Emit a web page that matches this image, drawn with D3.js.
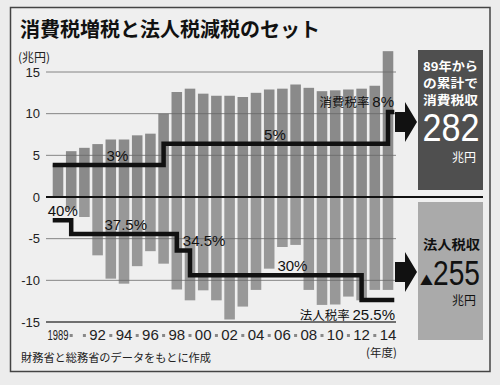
<!DOCTYPE html>
<html>
<head>
<meta charset="utf-8">
<script src="https://cdn.jsdelivr.net/npm/d3@7/dist/d3.min.js"></script>
<style>
  body { margin: 0; background: #ececec; }
  svg { display: block; }
  text { font-family: 'Liberation Sans', 'Noto Sans CJK JP', sans-serif; }
  .jp { font-family: 'Noto Sans CJK JP', sans-serif; }
</style>
</head>
<body>
<div id="chart"></div>
<script>
const years = [1989, 1990, 1991, 1992, 1993, 1994, 1995, 1996, 1997, 1998, 1999, 2000, 2001,
  2002, 2003, 2004, 2005, 2006, 2007, 2008, 2009, 2010, 2011, 2012, 2013, 2014]
// 消費税収 (兆円)
const consumptionTax = [3.9, 5.5, 5.9, 6.35, 6.9, 6.9, 7.4, 7.6, 10.0, 12.6, 13.0, 12.4, 12.15,
  12.15, 12.0, 12.5, 12.9, 13.0, 13.5, 13.1, 12.7, 12.8, 12.9, 13.0, 13.35, 17.5]
// 法人税収の減少分 (兆円, 89年度比)
const corporateTax = [0, -1.5, -2.4, -7.0, -9.8, -10.4, -8.3, -6.5, -8.0, -11.1, -12.4, -11.2, -12.4,
  -14.7, -13.15, -11.15, -8.6, -6.0, -5.75, -11.15, -12.95, -12.9, -11.95, -12.4, -11.15, -11.15]
const yTicks = [15, 10, 5, 0, -5, -10, -15]
const xTickLabels = ['1989', null, null, '92', null, '94', null, '96', null, '98', null, '00', null,
  '02', null, '04', null, '06', null, '08', null, '10', null, '12', null, '14']

const consumptionRateYears = [1989, 1997, 2014]
const consumptionRates = [3, 5, 8]
const corporateRateYears = [1989, 1990, 1998, 1999, 2012]
const corporateRates = [40, 37.5, 34.5, 30, 25.5]

const W = 500, H = 385

const svg = d3.select('#chart').append('svg')
  .attr('width', W)
  .attr('height', H)

const x = d3.scaleBand()
  .domain(years)
  .range([51.4, 394.6])
  .paddingInner(0.2)
  .paddingOuter(0.1)
const bw = x.bandwidth()

const y = d3.scaleLinear().domain([-15, 15]).range([322, 72])

// rate → chart level
const cRate = d3.scaleLinear().domain([3, 8]).range([3.84, 10.2])
const kRate = d3.scaleLinear().domain([37.5, 25.5]).range([-4.44, -12.36])

// frame
svg.append('rect')
  .attr('x', 10.5).attr('y', 7.5)
  .attr('width', 479.5).attr('height', 364)
  .attr('fill', '#efefef')
  .attr('stroke', '#444')
  .attr('stroke-width', 1.5)

// title
svg.append('text')
  .attr('class', 'jp')
  .attr('x', 20).attr('y', 37)
  .attr('font-size', 20)
  .attr('font-weight', 700)
  .attr('fill', '#111')
  .text('消費税増税と法人税減税のセット')

svg.append('text')
  .attr('class', 'jp')
  .attr('x', 18).attr('y', 62)
  .attr('font-size', 12)
  .attr('fill', '#222')
  .text('(兆円)')

// bars
svg.append('g').selectAll('rect')
  .data(years)
  .enter()
    .append('rect')
    .attr('x', d => x(d))
    .attr('width', bw)
    .attr('y', (d, i) => y(consumptionTax[i]))
    .attr('height', (d, i) => y(0) - y(consumptionTax[i]))
    .attr('fill', '#8a8a8a')

svg.append('g').selectAll('rect')
  .data(years)
  .enter()
    .append('rect')
    .attr('x', d => x(d))
    .attr('width', bw)
    .attr('y', y(0))
    .attr('height', (d, i) => y(corporateTax[i]) - y(0))
    .attr('fill', '#989898')

// grid
const grid = svg.append('g')
grid.selectAll('line')
  .data(yTicks)
  .enter()
    .append('line')
    .attr('x1', 46)
    .attr('x2', d => d === 0 ? 483 : 396)
    .attr('y1', d => y(d))
    .attr('y2', d => y(d))
    .attr('stroke', d => d === 0 ? '#111' : (d === -15 ? '#444' : '#6a6a6a'))
    .attr('stroke-width', d => d === 0 ? 1.8 : (d === -15 ? 1.5 : 0.8))

grid.selectAll('text')
  .data(yTicks)
  .enter()
    .append('text')
    .attr('x', 40)
    .attr('y', d => y(d) + 4.5)
    .attr('text-anchor', 'end')
    .attr('font-size', 13)
    .attr('fill', '#222')
    .text(d => d)

// x labels
const xg = svg.append('g')
xg.selectAll('text')
  .data(years.filter((d, i) => xTickLabels[i]))
  .enter()
    .append('text')
    .attr('x', d => x(d) + bw / 2)
    .attr('y', 340)
    .attr('text-anchor', 'middle')
    .attr('font-size', 15)
    .attr('fill', '#222')
    .attr('textLength', d => d === 1989 ? 21 : null)
    .attr('lengthAdjust', 'spacingAndGlyphs')
    .text(d => xTickLabels[years.indexOf(d)])

xg.selectAll('rect')
  .data(years.filter((d, i) => !xTickLabels[i]))
  .enter()
    .append('rect')
    .attr('x', d => x(d) + bw / 2 - 1.5)
    .attr('y', 334)
    .attr('width', 3)
    .attr('height', 3)
    .attr('fill', '#888')

svg.append('text')
  .attr('class', 'jp')
  .attr('x', 366).attr('y', 357)
  .attr('font-size', 11.5)
  .attr('fill', '#222')
  .text('(年度)')

svg.append('text')
  .attr('class', 'jp')
  .attr('x', 21).attr('y', 362)
  .attr('font-size', 11.2)
  .attr('fill', '#222')
  .text('財務省と総務省のデータをもとに作成')

// rate step lines
const stepPoints = (yrs, rates, scale) => {
  const pts = yrs.map((yr, i) => ({
    px: i === 0 ? x(yr) : x(yr) + bw / 2,
    v: scale(rates[i])
  }))
  pts.push({px: x(years[years.length - 1]) + bw + 1, v: scale(rates[rates.length - 1])})
  return pts
}

const stepLine = d3.line()
  .x(d => d.px)
  .y(d => y(d.v))
  .curve(d3.curveStepAfter)

svg.append('path')
  .attr('d', stepLine(stepPoints(consumptionRateYears, consumptionRates, cRate)))
  .attr('fill', 'none')
  .attr('stroke', '#111')
  .attr('stroke-width', 4.5)

svg.append('path')
  .attr('d', stepLine(stepPoints(corporateRateYears, corporateRates, kRate)))
  .attr('fill', 'none')
  .attr('stroke', '#111')
  .attr('stroke-width', 4.5)

// rate labels
const rateLabel = (txt, px, py, anchor) => {
  svg.append('text')
    .attr('x', px).attr('y', py)
    .attr('text-anchor', anchor)
    .attr('font-size', 15)
    .attr('fill', '#111')
    .text(txt)
}
rateLabel('3%', x(1991) + bw / 2 + 33, y(cRate(3)) - 4, 'middle')
rateLabel('5%', x(2005) + 11, y(cRate(5)) - 4, 'middle')
rateLabel('40%', x(1989) - 5, y(kRate(40)) - 4, 'start')
rateLabel('37.5%', x(1993) - 1, y(kRate(37.5)) - 4, 'start')
rateLabel('34.5%', x(1998) + bw / 2 + 6, y(kRate(34.5)) - 5, 'start')
rateLabel('30%', x(2006) + bw / 2 + 10, y(kRate(30)) - 4, 'middle')

const nameLabel = (name, rate, px, py) => {
  const t = svg.append('text')
    .attr('x', px).attr('y', py)
    .attr('text-anchor', 'end')
    .attr('fill', '#111')
  t.append('tspan').attr('class', 'jp').attr('font-size', 12.5).text(name + ' ')
  t.append('tspan').attr('font-size', 15).text(rate)
}
nameLabel('消費税率', '8%', 394, y(cRate(8)) - 5)
nameLabel('法人税率', '25.5%', 395, y(kRate(25.5)) + 20)

// arrows
const arrow = cy => `M395,${cy - 10}H405V${cy - 20}L417,${cy}L405,${cy + 20}V${cy + 10}H395Z`
svg.append('path').attr('d', arrow(122)).attr('fill', '#111')
svg.append('path').attr('d', arrow(272)).attr('fill', '#111')

// right boxes
svg.append('rect')
  .attr('x', 418).attr('y', 50)
  .attr('width', 65).attr('height', 140)
  .attr('fill', '#4f4f4f')

svg.append('rect')
  .attr('x', 418).attr('y', 202)
  .attr('width', 65).attr('height', 138)
  .attr('fill', '#aaaaaa')

const boxText = (txt, px, py, size, color, opts = {}) => {
  const t = svg.append('text')
    .attr('x', px).attr('y', py)
    .attr('text-anchor', opts.anchor || 'middle')
    .attr('font-size', size)
    .attr('font-weight', opts.weight || 400)
    .attr('fill', color)
    .text(txt)
  if (opts.jp) t.attr('class', 'jp')
  if (opts.len) t.attr('textLength', opts.len).attr('lengthAdjust', 'spacingAndGlyphs')
  return t
}

boxText('89年から', 450.5, 71, 12, '#fff', {jp: true, weight: 700, len: 55})
boxText('の累計で', 450.5, 88, 12, '#fff', {jp: true, weight: 700, len: 55})
boxText('消費税収', 450.5, 105, 12, '#fff', {jp: true, weight: 700, len: 55})
boxText('282', 451, 141, 38, '#fff', {len: 57})
boxText('兆円', 452, 162, 12, '#fff', {jp: true, anchor: 'start'})

boxText('法人税収', 451.5, 249, 13, '#111', {jp: true, weight: 700, len: 57})
boxText('▲', 420, 285, 13, '#111', {jp: true, anchor: 'start'})
boxText('255', 433, 285, 35, '#111', {anchor: 'start', len: 47})
boxText('兆円', 452, 305, 12, '#111', {jp: true, anchor: 'start'})
</script>
</body>
</html>
